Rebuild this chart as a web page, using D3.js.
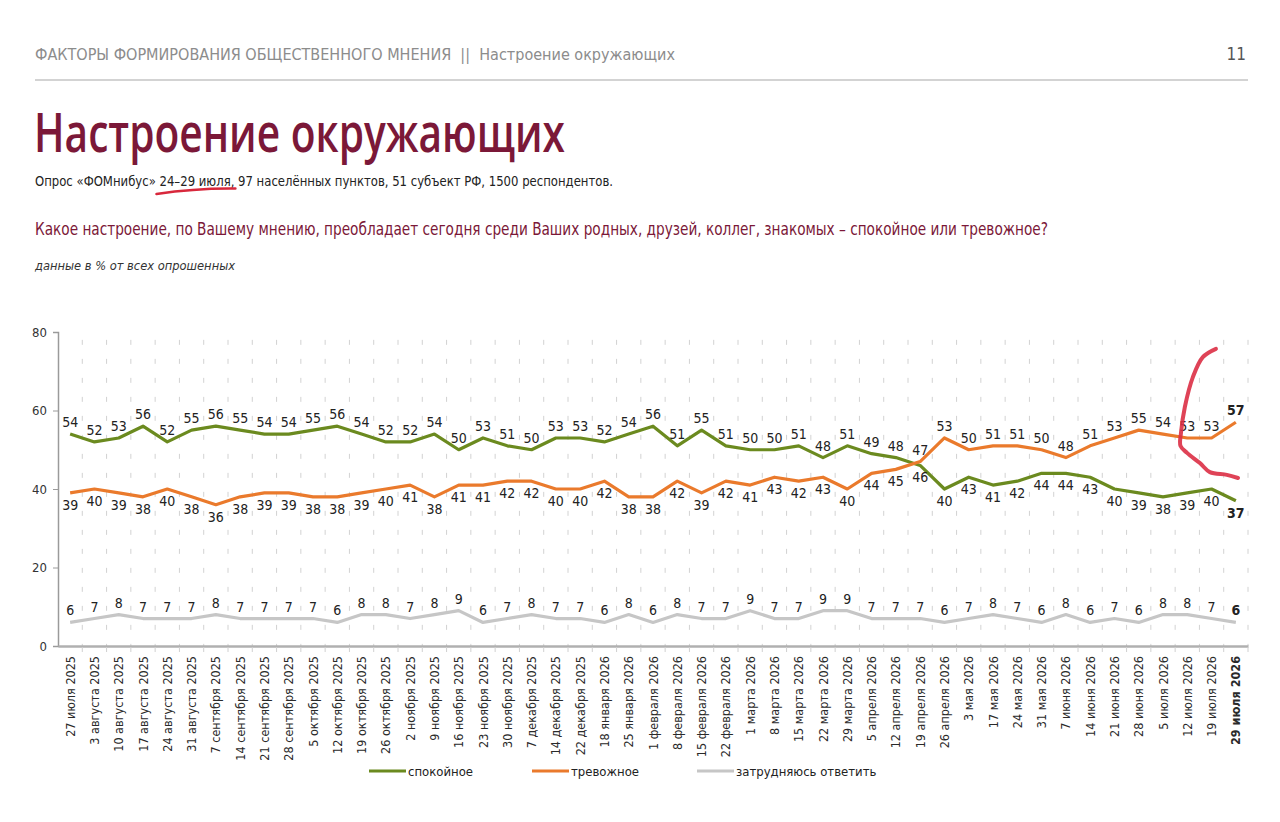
<!DOCTYPE html>
<html><head><meta charset="utf-8">
<script src="https://cdn.jsdelivr.net/npm/d3@7"></script>
<style>
html,body{margin:0;padding:0;background:#fff;}
svg{display:block;}
</style></head>
<body>
<svg id="c" width="1280" height="822"></svg>
<script>
const categories = ["27 июля 2025","3 августа 2025","10 августа 2025","17 августа 2025","24 августа 2025","31 августа 2025","7 сентября 2025","14 сентября 2025","21 сентября 2025","28 сентября 2025","5 октября 2025","12 октября 2025","19 октября 2025","26 октября 2025","2 ноября 2025","9 ноября 2025","16 ноября 2025","23 ноября 2025","30 ноября 2025","7 декабря 2025","14 декабря 2025","22 декабря 2025","18 января 2026","25 января 2026","1 февраля 2026","8 февраля 2026","15 февраля 2026","22 февраля 2026","1 марта 2026","8 марта 2026","15 марта 2026","22 марта 2026","29 марта 2026","5 апреля 2026","12 апреля 2026","19 апреля 2026","26 апреля 2026","3 мая 2026","17 мая 2026","24 мая 2026","31 мая 2026","7 июня 2026","14 июня 2026","21 июня 2026","28 июня 2026","5 июля 2026","12 июля 2026","19 июля 2026","29 июля 2026"];
const calm = [54,52,53,56,52,55,56,55,54,54,55,56,54,52,52,54,50,53,51,50,53,53,52,54,56,51,55,51,50,50,51,48,51,49,48,46,40,43,41,42,44,44,43,40,39,38,39,40,37];
const anxious = [39,40,39,38,40,38,36,38,39,39,38,38,39,40,41,38,41,41,42,42,40,40,42,38,38,42,39,42,41,43,42,43,40,44,45,47,53,50,51,51,50,48,51,53,55,54,53,53,57];
const unsure = [6,7,8,7,7,7,8,7,7,7,7,6,8,8,7,8,9,6,7,8,7,7,6,8,6,8,7,7,9,7,7,9,9,7,7,7,6,7,8,7,6,8,6,7,6,8,8,7,6];
const seriesNames = ["спокойное","тревожное","затрудняюсь ответить"];
const yTicks = [0,20,40,60,80];
// hand-drawn red annotation in data space [category index, value]
const annotation = [[47.18,75.7],[46.64,73.6],[46.23,68.5],[45.9,60.9],[45.74,54.3],[45.72,51.0],[45.99,49.2],[46.52,46.6],[46.93,44.3],[47.63,43.6],[48.09,42.8]];

const colors = ["#6b8a1f","#ea7a2c","#c6c6c6"];
const FONT = "'Liberation Sans Narrow','DejaVu Sans Condensed','Liberation Sans',sans-serif";
const TFONT = "'Open Sans','Noto Sans',sans-serif";
const BURG = "#7b1838";

const svg = d3.select("#c");
svg.append("rect").attr("width",1280).attr("height",822).attr("fill","#fff");

// ---- header
svg.append("text").attr("x",35).attr("y",60).attr("font-family",FONT).attr("font-size",15.5)
  .attr("fill","#8c8c8c").attr("textLength",640).attr("lengthAdjust","spacingAndGlyphs")
  .attr("xml:space","preserve")
  .text("ФАКТОРЫ ФОРМИРОВАНИЯ ОБЩЕСТВЕННОГО МНЕНИЯ  ||  Настроение окружающих");
svg.append("text").attr("x",1246).attr("y",60).attr("text-anchor","end").attr("font-family",FONT)
  .attr("font-size",17).attr("fill","#555").text("11");
svg.append("line").attr("x1",35).attr("x2",1248).attr("y1",80).attr("y2",80).attr("stroke","#c4c4c4").attr("stroke-width",1.5);

svg.append("text").attr("x",34).attr("y",152).attr("font-family",TFONT).attr("font-size",54).attr("font-weight",600)
  .attr("fill",BURG).attr("textLength",531).attr("lengthAdjust","spacingAndGlyphs").text("Настроение окружающих");

const sub = svg.append("text").attr("x",35).attr("y",186).attr("font-family",FONT).attr("font-size",14.5)
  .attr("fill","#222").attr("textLength",578).attr("lengthAdjust","spacingAndGlyphs");
const p1 = "Опрос «ФОМнибус» ", p2 = "24–29 июля,", p3 = " 97 населённых пунктов, 51 субъект РФ, 1500 респондентов.";
sub.text(p1+p2+p3);

svg.append("text").attr("x",35).attr("y",235).attr("font-family",FONT).attr("font-size",17)
  .attr("fill",BURG).attr("textLength",1013).attr("lengthAdjust","spacingAndGlyphs")
  .text("Какое настроение, по Вашему мнению, преобладает сегодня среди Ваших родных, друзей, коллег, знакомых – спокойное или тревожное?");
svg.append("text").attr("x",35).attr("y",270).attr("font-family",FONT).attr("font-size",13).attr("font-style","italic")
  .attr("fill","#333").attr("textLength",200).attr("lengthAdjust","spacingAndGlyphs").text("данные в % от всех опрошенных");

// red underline under date
try{
  const n = sub.node();
  const a = n.getExtentOfChar(p1.length), b = n.getExtentOfChar(p1.length+p2.length-1);
  const x0 = a.x-3, x1 = b.x+b.width+1, yb = 186;
  svg.append("path").attr("d",`M${x0},${yb+8} Q${(x0+x1)/2},${yb+2} ${x1},${yb+2.5}`)
    .attr("fill","none").attr("stroke","#d8283c").attr("stroke-width",2.6).attr("stroke-linecap","round");
}catch(e){}

// ---- chart
const x = d3.scaleBand().domain(categories).range([58,1248]);
const y = d3.scaleLinear().domain([0,80]).range([646,332]);
const cx = i => x(categories[i]) + x.bandwidth()/2;
const step = x.step();

// vertical dashed gridlines at band boundaries
const bounds = categories.map((c,i)=>x(c)+step);
svg.append("g").selectAll("line").data(bounds).join("line")
  .attr("x1",d=>d).attr("x2",d=>d).attr("y1",y(78)).attr("y2",y(0))
  .attr("stroke","#d2d2d2").attr("stroke-width",1).attr("stroke-dasharray","5,14");

// y axis
const yAxis = svg.append("g").attr("transform","translate(58,0)")
  .call(d3.axisLeft(y).tickValues(yTicks).tickSize(5).tickPadding(6));
yAxis.select(".domain").attr("stroke","#9a9a9a").attr("stroke-width",1.5);
yAxis.selectAll(".tick line").attr("stroke","#9a9a9a");
yAxis.selectAll("text").attr("font-family",FONT).attr("font-size",13).attr("fill","#333");

// x axis
const xAxis = svg.append("g").attr("transform","translate(0,646)")
  .call(d3.axisBottom(x).tickSize(0).tickPadding(0));
xAxis.select(".domain").attr("stroke","#b0b0b0").attr("stroke-width",2.5);
xAxis.selectAll(".tick text")
  .attr("font-family",FONT).attr("font-size",12.5).attr("fill","#2a2a2a")
  .attr("text-anchor","end").attr("transform","translate(4.5,10) rotate(-90)").attr("dy",0).attr("y",0).attr("x",0)
  .attr("font-weight",(d,i)=>i===categories.length-1?"bold":"normal");
svg.append("g").selectAll("line").data(bounds).join("line")
  .attr("x1",d=>d).attr("x2",d=>d).attr("y1",647).attr("y2",652).attr("stroke","#d0d0d0");

// lines
const seriesData = [calm, anxious, unsure];
const line = d3.line().x((d,i)=>cx(i)).y(d=>y(d));
seriesData.forEach((s,k)=>{
  svg.append("path").datum(s).attr("d",line).attr("fill","none")
    .attr("stroke",colors[k]).attr("stroke-width",3.2).attr("stroke-linejoin","round");
});

// labels
const last = categories.length-1;
function addLabels(s, placeFn){
  svg.append("g").selectAll("text").data(s).join("text")
    .attr("x",(d,i)=>cx(i)).attr("y",(d,i)=>y(d)+placeFn(i))
    .attr("text-anchor","middle").attr("font-family",FONT).attr("font-size",14)
    .attr("fill","#222").attr("font-weight",(d,i)=>i===last?"bold":"normal").text(d=>d);
}
addLabels(calm, i => calm[i]>=anxious[i] ? -7 : 17);
addLabels(anxious, i => anxious[i]>calm[i] ? -7 : 17);
addLabels(unsure, i => -7);

// annotation
svg.append("path").datum(annotation)
  .attr("d",d3.line().curve(d3.curveCatmullRom).x(d=>x(categories[0])+step/2+d[0]*step).y(d=>y(d[1])))
  .attr("fill","none").attr("stroke","#dc2f45").attr("stroke-width",4).attr("stroke-linecap","round").attr("opacity",0.9);

// legend
const legX = [369,532,697];
seriesNames.forEach((n,k)=>{
  svg.append("line").attr("x1",legX[k]).attr("x2",legX[k]+37).attr("y1",771).attr("y2",771)
    .attr("stroke",colors[k]).attr("stroke-width",3);
  svg.append("text").attr("x",legX[k]+39).attr("y",775.5).attr("font-family",FONT).attr("font-size",13)
    .attr("fill","#222").text(n);
});
</script>
</body></html>
